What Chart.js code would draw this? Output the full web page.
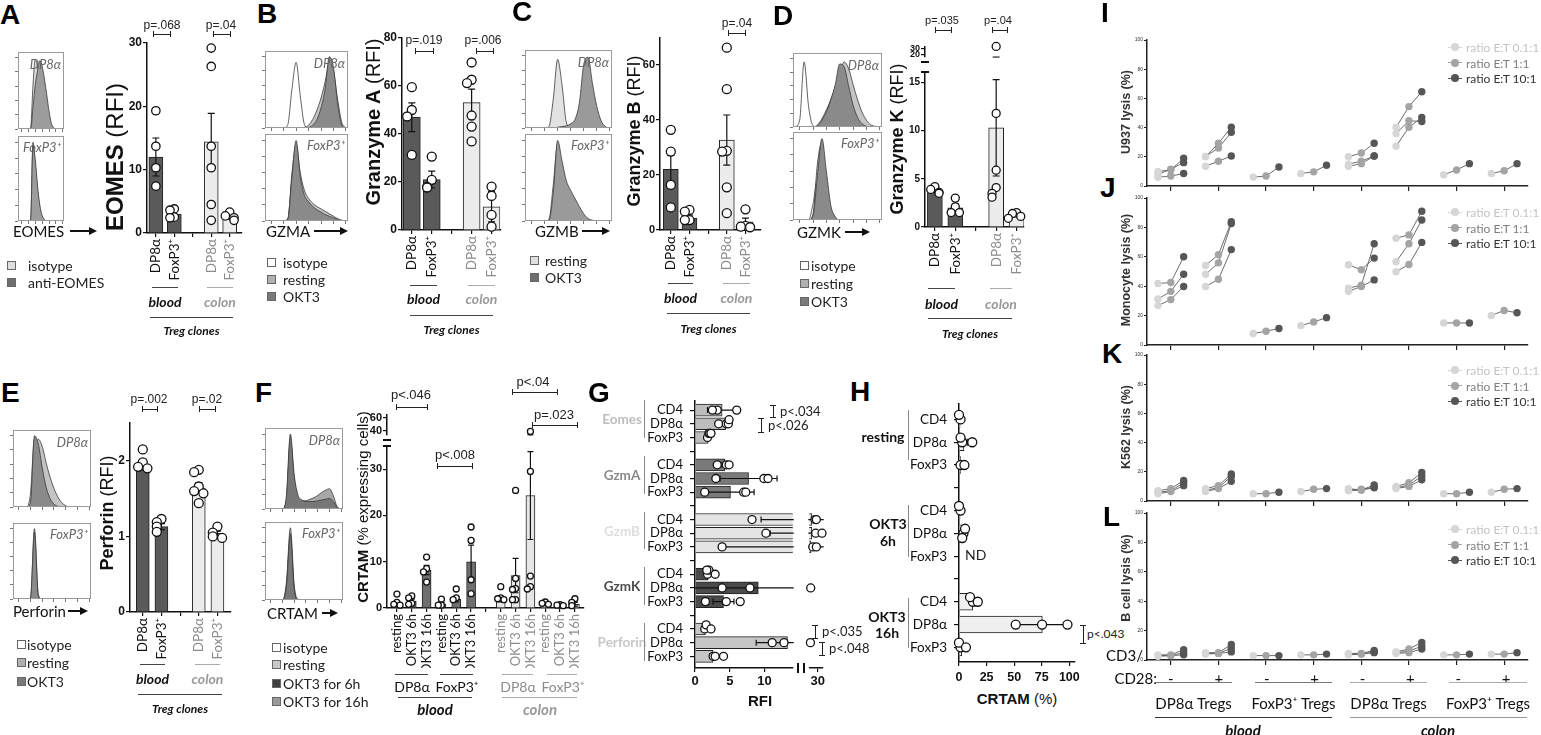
<!DOCTYPE html>
<html>
<head>
<meta charset="utf-8">
<title>Treg clones – cytotoxic molecules and lysis</title>
<script src="https://cdn.jsdelivr.net/npm/chart.js@4.4.1/dist/chart.umd.min.js"></script>
<style>
  html, body { margin: 0; padding: 0; background: #fff; }
  body { position: relative; width: 1541px; height: 735px; overflow: hidden; color: #111; }
  canvas { position: absolute; }
  .t { position: absolute; white-space: nowrap; line-height: 1; }
  .ln { position: absolute; }
</style>
</head>
<body>
<script>
// ---------- data ----------
const treg = ['DP8α', 'FoxP3⁺', '', 'DP8α', 'FoxP3⁺'];

// A - EOMES
const eomesMeans = [12.0, 3.0, null, 14.4, 2.5];
const eomesSems = [3.0, 0.4, null, 4.5, 0.3];
const eomesPoints = [[19.3, 13.7, 10.3, 7.4], [3.8, 3.6, 2.5, 2.4], [], [29.2, 26.3, 13.7, 10.3, 4.5, 2.0], [3.3, 2.7, 2.4, 2.0]];
const eomesTicks = [0, 10, 20, 30];

// B - Granzyme A
const gzmaMeans = [47, 21, null, 53.1, 9.7];
const gzmaSems = [6, 3.5, null, 5.6, 6.3];
const gzmaPoints = [[59.5, 50, 47.3, 31.3], [30.6, 20.9, 18, 17.7], [], [69.8, 62.6, 61.2, 47.7, 43.1, 36.9], [18.1, 14.2, 6.3, 1.4]];
const gzmaTicks = [0, 20, 40, 60, 80];

// C - Granzyme B
const gzmbMeans = [22.1, 4.2, null, 32.7, 3.0];
const gzmbSems = [5, 1.2, null, 9.1, 1.3];
const gzmbPoints = [[36.4, 28.5, 16.4, 8.2], [7.3, 6.7, 3.6, 3.6], [], [66.3, 51.2, 28.8, 28.5, 15.5, 6.1], [7.5, 1.5, 1.2, 1.0]];
const gzmbTicks = [0, 20, 40, 60];

// D - Granzyme K (broken axis)
const gzmkMeans = [3.8, 2.0, null, 10.3, 1.2];
const gzmkSems = [0.2, 0.4, null, 5, 0.15];
const gzmkPoints = [[4.2, 3.9, 3.6, 3.5], [3.0, 2.1, 1.5, 1.5], [], [34, 11.8, 5.9, 4.1, 3.5, 3.1], [1.5, 1.4, 1.1, 0.9]];
const gzmkTicksLow = [0, 5, 10, 15];
const gzmkTicksHigh = [20, 30];

// E - Perforin
const perfMeans = [1.95, 1.13, null, 1.64, 1.04];
const perfSems = [0.07, 0.04, null, 0.07, 0.03];
const perfPoints = [[2.15, 1.98, 1.92, 1.9], [1.23, 1.19, 1.13, 1.06], [], [1.88, 1.85, 1.66, 1.6, 1.57, 1.44], [1.13, 1.05, 1.0, 0.98]];
const perfTicks = [0, 1, 2];

// F - CRTAM
const crtamLabels = ['resting', 'OKT3 6h', 'OKT3 16h', 'resting', 'OKT3 6h', 'OKT3 16h', '', 'resting', 'OKT3 6h', 'OKT3 16h', 'resting', 'OKT3 6h', 'OKT3 16h'];
const crtamMeans = [1.1, 1.5, 8.2, 0.8, 1.9, 10, null, 1.9, 7, 24.3, 0.8, 0.5, 0.8];
const crtamSems = [0.5, 0.4, 1.0, 0.4, 0.6, 3.6, null, 0.6, 3.7, 9.5, 0.2, 0.1, 0.4];
const crtamPoints = [[3, 1.2, 0.8, 0.6], [2.6, 2.2, 1.0, 0.8], [11, 8.5, 7.8, 5.6], [1.9, 0.6, 0.6], [4.1, 2.2, 1.8], [17.5, 14.6, 6.1, 3.1], [],
  [4.6, 2.2, 2.0, 1.8], [25.4, 6.4, 4.2, 4.0, 1.8, 1.8], [39, 29.5, 6.9, 4.6, 4.1], [1.3, 1.0, 0.8], [0.7, 0.6, 0.5], [2.0, 1.2, 0.5]];
const crtamTicksLow = [0, 10, 20, 30];
const crtamTicksHigh = [40, 60];

// G - RFI per subset
const gLabels = ['CD4', 'DP8α', 'FoxP3', '', 'CD4', 'DP8α', 'FoxP3', '', 'CD4', 'DP8α', 'FoxP3', '', 'CD4', 'DP8α', 'FoxP3', '', 'CD4', 'DP8α', 'FoxP3'];
const gMarkers = ['Eomes', 'GzmA', 'GzmB', 'GzmK', 'Perforin'];
const gMeans = [3.9, 4.4, 1.9, null, 4.3, 7.7, 5.1, null, 25.8, 25.8, 25.2, null, 1.9, 9.1, 4.1, null, 1.5, 13.3, 2.6];
const gSems = [2.1, 0.3, 0.1, null, 0.4, 4.1, 3.4, null, 16.3, 15, 21, null, 0.3, 16, 1.5, null, 0.2, 4.5, 0.5];
const gPoints = [[3.2, 2.5, 6.0], [3.4, 4.5, 4.8, 4.9], [1.8, 2.0, 2.1, 2.3], [], [3.2, 4.5, 4.9], [3.0, 9.9, 10.5], [1.4, 7.0, 7.3], [],
  [8.2, 28, 29], [10.2, 28.5, 33], [3.9, 26.5, 29], [], [1.8, 2.0, 2.9, 1.7], [3.9, 7.9, 25], [1.5, 4.5, 6.5], [], [1.4, 1.6, 2.3], [11.1, 12.8, 24.8], [2.6, 2.9, 4.1]];
const rfiTicksLow = [0, 5, 10];
const rfiTicksHigh = [30];

// H - CRTAM %
const hLabels = ['CD4', 'DP8α', 'FoxP3', '', 'CD4', 'DP8α', 'FoxP3', '', 'CD4', 'DP8α', 'FoxP3'];
const hMeans = [1, 4.5, 1.5, null, 1, 4, null, null, 12.5, 75.5, 2.5];
const hSems = [0.5, 3, 1, null, 0.5, 0.8, null, null, 2, 24, 2];
const hPoints = [[1.4, 0], [2.9, 12, 1.4], [1.4, 4.9], [], [1.4, 0], [4, 5.5, 2.9], [], [], [12.6, 10, 17], [51.4, 75.3, 98.3], [1.4, 0, 6.3]];
const crtamPctTicks = [0, 25, 50, 75, 100];

// I-L - lysis (one value per donor line, at ratio 0.1:1, 1:1, 10:1)
const lysisGroups = ['blood DP8α −', 'blood DP8α +', 'blood FoxP3 −', 'blood FoxP3 +', 'colon DP8α −', 'colon DP8α +', 'colon FoxP3 −', 'colon FoxP3 +'];
const cd3Labels = ['-', '+', '-', '+', '-', '+', '-', '+'];
const donorGroup = [0, 0, 0, 1, 1, 1, 2, 3, 4, 4, 4, 5, 5, 5, 6, 7];
const ratioLabels = ['ratio E:T 0.1:1', 'ratio E:T 1:1', 'ratio E:T 10:1'];
const lysisTicks = [0, 20, 40, 60, 80, 100];
const u937Low = [10, 8, 6, 20, 20.3, 13.5, 6.1, 8.6, 20, 15, 13.5, 40.2, 36, 27.3, 7.7, 8.6];
const u937Mid = [11, 11.5, 6.8, 29.3, 26, 17, 6.8, 9.7, 22.6, 17, 15.3, 54.4, 44.7, 40.2, 11, 10.4];
const u937High = [19, 16, 8.6, 40.2, 36.8, 20.5, 13, 14.2, 29.3, 20.5, 20.5, 64.6, 44.2, 47, 15.3, 15.3];
const monoLow = [41.8, 31.3, 26.8, 54.1, 48.1, 39.8, 7.8, 13.2, 54.6, 38.7, 36.5, 72.7, 56.6, 49.9, 15, 20.1];
const monoMid = [42.5, 36.5, 30.9, 61.5, 55.9, 44.7, 9.4, 15.7, 51.2, 40.7, 39.8, 74.9, 68.9, 54.8, 15, 23.5];
const monoHigh = [60, 48.1, 39.8, 83.9, 82.6, 64.9, 11.2, 18.6, 59.1, 68.9, 44.3, 91, 85, 69.8, 15, 21.9];
const k562Low = [7, 6, 5, 8.5, 7.5, 6.5, 5, 6.5, 8.5, 7.5, 7, 10, 9, 8.5, 5, 6];
const k562Mid = [8.5, 7, 6.5, 10.5, 9, 8.5, 5, 8, 7.5, 8, 7.5, 12.5, 11, 10, 5, 8];
const k562High = [14, 12.5, 10.5, 18.5, 17, 13.5, 6, 8.5, 11, 9.5, 9, 19.5, 17, 14.5, 6, 8.5];
const bcellLow = [3.5, 3, 2.5, 5, 4.5, 4, 3, 3.5, 4.5, 4, 3.5, 5.5, 5, 4.5, 3.5, 4];
const bcellMid = [3.5, 3, 3, 5, 4.5, 4.5, 3, 3.5, 4.5, 4, 4, 7.5, 6, 5, 3.5, 4];
const bcellHigh = [7, 5, 3.5, 10.5, 8, 5.5, 3, 4, 6.5, 5.5, 5, 12, 9.5, 7.5, 4, 5];

// flow cytometry histograms (20 bins, % of max)
const eomesDpIso = [0, 0, 0, 0, 0, 2, 60, 98, 88, 72, 55, 38, 22, 10, 3, 0, 0, 0, 0, 0];
const eomesDpAb = [0, 0, 0, 0, 0, 0, 30, 62, 82, 96, 88, 70, 48, 25, 8, 2, 0, 0, 0, 0];
const eomesFxIso = [0, 0, 0, 0, 0, 2, 100, 72, 38, 16, 5, 1, 0, 0, 0, 0, 0, 0, 0, 0];
const eomesFxAb = [0, 0, 0, 0, 0, 1, 96, 78, 45, 20, 7, 2, 0, 0, 0, 0, 0, 0, 0, 0];
const gzmaDpIso = [0, 0, 0, 0, 0, 5, 55, 92, 45, 5, 0, 0, 0, 0, 0, 0, 0, 0, 0, 0];
const gzmaDpRest = [0, 0, 0, 0, 0, 0, 0, 0, 0, 1, 4, 12, 25, 42, 65, 92, 80, 40, 8, 0];
const gzmaDpOkt = [0, 0, 0, 0, 0, 0, 0, 0, 0, 0, 1, 4, 12, 28, 55, 100, 85, 35, 4, 0];
const gzmaFxIso = [0, 0, 0, 0, 0, 3, 50, 70, 30, 6, 1, 0, 0, 0, 0, 0, 0, 0, 0, 0];
const gzmaFxRest = [0, 0, 0, 0, 0, 2, 60, 95, 60, 38, 28, 22, 18, 15, 12, 9, 6, 3, 1, 0];
const gzmaFxOkt = [0, 0, 0, 0, 0, 2, 55, 100, 55, 32, 24, 18, 14, 11, 8, 6, 4, 2, 0, 0];
const gzmbDpRest = [0, 0, 0, 0, 0, 2, 40, 95, 60, 8, 0, 0, 0, 0, 0, 0, 0, 0, 0, 0];
const gzmbDpOkt = [0, 0, 0, 0, 0, 0, 0, 1, 2, 3, 6, 12, 35, 88, 98, 62, 30, 10, 2, 0];
const gzmbFxRest = [0, 0, 0, 0, 0, 2, 45, 95, 55, 15, 4, 1, 0, 0, 0, 0, 0, 0, 0, 0];
const gzmbFxOkt = [0, 0, 0, 0, 0, 1, 35, 100, 75, 50, 38, 28, 18, 9, 3, 1, 0, 0, 0, 0];
const gzmkDpIso = [0, 10, 95, 30, 2, 0, 0, 0, 0, 0, 0, 0, 0, 0, 0, 0, 0, 0, 0, 0];
const gzmkDpRest = [0, 0, 0, 0, 0, 3, 12, 25, 40, 58, 78, 95, 85, 62, 40, 22, 10, 3, 1, 0];
const gzmkDpOkt = [0, 0, 0, 0, 0, 2, 10, 22, 40, 62, 92, 88, 60, 32, 14, 5, 1, 0, 0, 0];
const gzmkFxIso = [0, 0, 0, 0, 20, 50, 15, 2, 0, 0, 0, 0, 0, 0, 0, 0, 0, 0, 0, 0];
const gzmkFxRest = [0, 0, 0, 0, 8, 70, 95, 45, 10, 2, 0, 0, 0, 0, 0, 0, 0, 0, 0, 0];
const gzmkFxOkt = [0, 0, 0, 0, 5, 55, 100, 60, 18, 4, 0, 0, 0, 0, 0, 0, 0, 0, 0, 0];
const perfDpIso = [0, 0, 0, 0, 20, 95, 30, 3, 0, 0, 0, 0, 0, 0, 0, 0, 0, 0, 0, 0];
const perfDpRest = [0, 0, 0, 0, 5, 75, 95, 85, 62, 42, 26, 14, 6, 2, 0, 0, 0, 0, 0, 0];
const perfDpOkt = [0, 0, 0, 0, 8, 100, 88, 55, 28, 12, 4, 1, 0, 0, 0, 0, 0, 0, 0, 0];
const perfFxIso = [0, 0, 0, 0, 0, 55, 2, 0, 0, 0, 0, 0, 0, 0, 0, 0, 0, 0, 0, 0];
const perfFxRest = [0, 0, 0, 0, 2, 100, 6, 0, 0, 0, 0, 0, 0, 0, 0, 0, 0, 0, 0, 0];
const perfFxOkt = [0, 0, 0, 0, 2, 95, 4, 0, 0, 0, 0, 0, 0, 0, 0, 0, 0, 0, 0, 0];
const crtamDpIso = [0, 0, 0, 0, 0, 10, 45, 5, 0, 0, 0, 0, 0, 0, 0, 0, 0, 0, 0, 0];
const crtamDpRest = [0, 0, 0, 0, 0, 15, 95, 40, 14, 9, 7, 6, 6, 6, 6, 5, 4, 2, 1, 0];
const crtamDpOkt16 = [0, 0, 0, 0, 0, 12, 90, 38, 14, 11, 11, 13, 15, 18, 22, 25, 27, 18, 3, 0];
const crtamDpOkt6 = [0, 0, 0, 0, 0, 18, 100, 45, 18, 12, 10, 10, 10, 11, 12, 13, 14, 10, 2, 0];
const crtamFxIso = [0, 0, 0, 0, 0, 5, 40, 3, 0, 0, 0, 0, 0, 0, 0, 0, 0, 0, 0, 0];
const crtamFxRest = [0, 0, 0, 0, 0, 25, 100, 20, 1, 0, 0, 0, 0, 0, 0, 0, 0, 0, 0, 0];
const crtamFxOkt16 = [0, 0, 0, 0, 0, 18, 85, 12, 0, 0, 0, 0, 0, 0, 0, 0, 0, 0, 0, 0];
const crtamFxOkt6 = [0, 0, 0, 0, 0, 20, 92, 15, 0, 0, 0, 0, 0, 0, 0, 0, 0, 0, 0, 0];

// ---------- helpers ----------
const LIB = '"Liberation Sans", Arial, sans-serif';
const LATO = 'Lato, "Open Sans", sans-serif';

function txt(x, y, s, font, color, align, rot) {
  const d = document.createElement('div');
  d.className = 't';
  d.innerHTML = s;
  d.style.left = x + 'px';
  d.style.top = y + 'px';
  d.style.font = font;
  d.style.color = color || '#111';
  d.style.transform = rot ? 'translate(-50%,-50%) rotate(-90deg)'
    : `translate(${align === 'c' ? '-50%' : align === 'r' ? '-100%' : '0'},-50%)`;
  document.body.appendChild(d);
}

function ln(x1, y1, x2, y2, color, w) {
  w = w || 1;
  const d = document.createElement('div');
  d.className = 'ln';
  d.style.background = color || '#111';
  if (y1 === y2) {
    d.style.left = Math.min(x1, x2) + 'px'; d.style.top = (y1 - w / 2) + 'px';
    d.style.width = Math.abs(x2 - x1) + 'px'; d.style.height = w + 'px';
  } else {
    d.style.left = (x1 - w / 2) + 'px'; d.style.top = Math.min(y1, y2) + 'px';
    d.style.width = w + 'px'; d.style.height = Math.abs(y2 - y1) + 'px';
  }
  document.body.appendChild(d);
}

function hBracket(x1, x2, y) { ln(x1, y, x2, y, '#222'); ln(x1, y - 3, x1, y + 3, '#222'); ln(x2, y - 3, x2, y + 3, '#222'); }
function vBracket(x, y1, y2) { ln(x, y1, x, y2, '#222'); ln(x - 3, y1, x + 3, y1, '#222'); ln(x - 3, y2, x + 3, y2, '#222'); }

function arrow(x1, x2, y) {
  ln(x1, y, x2 - 7, y, '#111', 1.5);
  const d = document.createElement('div');
  d.className = 'ln';
  d.style.cssText += `left:${x2 - 8}px;top:${y - 4.5}px;width:0;height:0;border-left:8px solid #111;border-top:4.5px solid transparent;border-bottom:4.5px solid transparent;`;
  document.body.appendChild(d);
}

function legendSquare(x, y, fill, label, textX) {
  const d = document.createElement('div');
  d.className = 'ln';
  d.style.cssText += `left:${x}px;top:${y - 4}px;width:7px;height:7px;background:${fill};border:1px solid #666;`;
  document.body.appendChild(d);
  txt(textX, y, label, `14px ${LATO}`, '#222');
}

function addCanvas(P, m) {
  const cv = document.createElement('canvas');
  const W = Math.round(P.r - P.l + m.l + m.r), H = Math.round(P.b - P.t + m.t + m.b);
  cv.width = W; cv.height = H;
  cv.style.left = (P.l - m.l) + 'px'; cv.style.top = (P.t - m.t) + 'px';
  cv.style.width = W + 'px'; cv.style.height = H + 'px';
  document.body.appendChild(cv);
  return cv;
}

// force every axis box to a fixed size so the plot area lands where we want it
const fitTo = size => s => {
  if (s.isHorizontal()) s.height = size; else s.width = size;
  s.paddingLeft = s.paddingRight = s.paddingTop = s.paddingBottom = 0;
};

function errorBarPlugin(means, sems, cap) {
  return {
    id: 'errorBars',
    afterDatasetDraw(chart, args) {
      if (args.index !== 0) return;
      const horiz = chart.options.indexAxis === 'y';
      const iS = chart.scales[horiz ? 'y' : 'x'], vS = chart.scales[horiz ? 'x' : 'y'];
      const ctx = chart.ctx, a = chart.chartArea;
      ctx.save();
      ctx.beginPath();
      ctx.rect(a.left - 1, a.top - 1, a.right - a.left + 2, a.bottom - a.top + 2);
      ctx.clip();
      ctx.strokeStyle = '#111';
      ctx.lineWidth = 1.2;
      means.forEach((mv, i) => {
        const s = sems[i];
        if (mv == null || !s) return;
        const c = iS.getPixelForValue(i), lo = vS.getPixelForValue(mv - s), hi = vS.getPixelForValue(mv + s), h = cap / 2;
        ctx.beginPath();
        if (horiz) {
          ctx.moveTo(lo, c); ctx.lineTo(hi, c);
          ctx.moveTo(lo, c - h); ctx.lineTo(lo, c + h);
          ctx.moveTo(hi, c - h); ctx.lineTo(hi, c + h);
        } else {
          ctx.moveTo(c, lo); ctx.lineTo(c, hi);
          ctx.moveTo(c - h, lo); ctx.lineTo(c + h, lo);
          ctx.moveTo(c - h, hi); ctx.lineTo(c + h, hi);
        }
        ctx.stroke();
      });
      ctx.restore();
    }
  };
}

const frame = {
  id: 'frame',
  afterDraw(chart) {
    const a = chart.chartArea, ctx = chart.ctx;
    ctx.save();
    ctx.strokeStyle = '#9a9a9a';
    ctx.lineWidth = 1;
    ctx.strokeRect(a.left + 0.5, a.top + 0.5, a.right - a.left - 1, a.bottom - a.top - 1);
    ctx.restore();
  }
};

const noUi = { legend: { display: false }, tooltip: { enabled: false } };

// bar (mean) + scatter (single clones) + SEM, vertical or horizontal
function dotBars(o) {
  const horiz = !!o.horiz, P = o.plot, m = o.m;
  const cv = addCanvas(P, m);
  const iStart = horiz ? P.t : P.l, iEnd = horiz ? P.b : P.r;
  const pxPerVal = (horiz ? P.r - P.l : P.b - P.t) / (o.vMax - o.vMin);
  const top = o.vMax + (o.over || 0);
  const jit = o.jit == null ? 1.6 : o.jit;
  const pts = [];
  o.points.forEach((arr, i) => {
    const placed = [];
    arr.forEach(v => {
      if (v < o.vMin || v > top) return;
      const near = placed.filter(p => Math.abs(p - v) * pxPerVal < o.r * jit).length;
      placed.push(v);
      const off = near ? (near % 2 ? -1 : 1) * Math.ceil(near / 2) * o.r * 1.05 / o.dc : 0;
      pts.push(horiz ? { x: v, y: i + off } : { x: i + off, y: v });
    });
  });
  const bars = [], cols = [];
  o.means.forEach((v, i) => {
    if (v == null) return;
    bars.push(horiz ? { x: v, y: i } : { x: i, y: v });
    cols.push(o.colors[i]);
  });
  const showIdx = o.showIndex !== false, showVal = o.showValue !== false;
  const idxAxis = {
    type: 'linear', display: showIdx, offset: false, reverse: horiz,
    min: (iStart - o.c0) / o.dc, max: (iEnd - o.c0) / o.dc,
    afterBuildTicks: s => { s.ticks = o.labels.map((_, i) => ({ value: i })); },
    afterFit: fitTo(horiz ? m.l : m.b),
    ticks: {
      autoSkip: false, minRotation: horiz ? 0 : 90, maxRotation: horiz ? 0 : 90,
      padding: o.labelPad || 2, font: o.labelFont,
      color: c => (o.labelColors ? o.labelColors[c.index] : '#111'),
      callback: v => o.labels[Math.round(v)]
    },
    grid: { offset: false, drawOnChartArea: false, tickLength: o.tickLen || 4, color: '#111', lineWidth: 1.2 },
    border: { color: '#111', width: 1.5 }
  };
  const valAxis = {
    type: 'linear', display: showVal, min: o.vMin, max: o.vMax, beginAtZero: false,
    afterBuildTicks: s => { s.ticks = o.ticks.map(v => ({ value: v })); },
    afterFit: fitTo(horiz ? m.b : m.l),
    ticks: { autoSkip: false, padding: o.valPad || 1, font: o.valFont, color: '#111' },
    grid: { drawOnChartArea: false, tickLength: 4, color: '#111', lineWidth: 1.2 },
    border: { color: '#111', width: 1.5 }
  };
  const leftShown = horiz ? showIdx : showVal, bottomShown = horiz ? showVal : showIdx;
  new Chart(cv, {
    type: 'bar',
    data: {
      datasets: [
        { type: 'bar', data: bars, backgroundColor: cols, borderColor: '#222', borderWidth: 1, barThickness: o.bw, clip: 0, order: 3 },
        { type: 'scatter', data: pts, pointRadius: o.r, pointBackgroundColor: '#fff', pointBorderColor: '#111', pointBorderWidth: 1.3, clip: false, order: 1 }
      ]
    },
    options: {
      responsive: false, animation: false, devicePixelRatio: 1, events: [],
      indexAxis: horiz ? 'y' : 'x',
      layout: { padding: { top: m.t, right: m.r, left: leftShown ? 0 : m.l, bottom: bottomShown ? 0 : m.b } },
      scales: horiz ? { y: idxAxis, x: valAxis } : { x: idxAxis, y: valAxis },
      plugins: noUi
    },
    plugins: [errorBarPlugin(o.means, o.sems, o.cap)]
  });
}

function histo(box, series, fills) {
  const m = { l: 4, r: 0, t: 0, b: 4 };
  const cv = addCanvas(box, m);
  new Chart(cv, {
    type: 'line',
    data: {
      datasets: series.map((s, k) => ({
        data: s.map((v, i) => ({ x: i, y: v })),
        fill: 'origin', backgroundColor: fills[k], borderColor: '#3a3a3a', borderWidth: 0.8,
        pointRadius: 0, cubicInterpolationMode: 'monotone', order: series.length - k
      }))
    },
    options: {
      responsive: false, animation: false, devicePixelRatio: 1, events: [],
      layout: { padding: 0 },
      scales: {
        x: { type: 'linear', min: -0.5, max: 19.5, afterFit: fitTo(m.b),
          afterBuildTicks: s => { s.ticks = [1, 4, 7, 10, 13, 16, 19].map(v => ({ value: v })); },
          ticks: { display: false }, border: { display: false },
          grid: { drawOnChartArea: false, tickLength: 3, color: '#777' } },
        y: { type: 'linear', min: 0, max: 108, afterFit: fitTo(m.l),
          afterBuildTicks: s => { s.ticks = [0, 20, 40, 60, 80, 100].map(v => ({ value: v })); },
          ticks: { display: false }, border: { display: false },
          grid: { drawOnChartArea: false, tickLength: 3, color: '#777' } }
      },
      plugins: noUi
    },
    plugins: [frame]
  });
}

const ratioColors = ['#d6d6d6', '#a4a4a4', '#565656'];
const ratioText = ['#c4c4c4', '#808080', '#333'];

function lysis(P, lo, mid, hi) {
  const m = { l: 16, r: 2, t: 2, b: 6 };
  const cv = addCanvas(P, m);
  new Chart(cv, {
    type: 'line',
    data: {
      datasets: donorGroup.map((g, d) => ({
        data: [{ x: g - 0.27, y: lo[d] }, { x: g, y: mid[d] }, { x: g + 0.27, y: hi[d] }],
        borderColor: '#5c5c5c', borderWidth: 0.9, tension: 0, clip: false,
        pointRadius: 3.7, pointBorderWidth: 0, pointBackgroundColor: ratioColors
      }))
    },
    options: {
      responsive: false, animation: false, devicePixelRatio: 1, events: [],
      layout: { padding: { top: m.t, right: m.r, left: 0, bottom: 0 } },
      scales: {
        x: { type: 'linear', min: -0.5, max: lysisGroups.length - 0.5, afterFit: fitTo(m.b),
          afterBuildTicks: s => { s.ticks = lysisGroups.map((_, i) => ({ value: i })); },
          ticks: { display: false },
          grid: { drawOnChartArea: false, tickLength: 5, color: '#222', lineWidth: 1.2 },
          border: { color: '#222', width: 1.5 } },
        y: { type: 'linear', min: 0, max: 100, afterFit: fitTo(m.l),
          afterBuildTicks: s => { s.ticks = lysisTicks.map(v => ({ value: v })); },
          ticks: { font: { size: 5, family: LIB }, color: '#333', padding: 1 },
          grid: { drawOnChartArea: false, tickLength: 3, color: '#222' },
          border: { color: '#222', width: 1.5 } }
      },
      plugins: noUi
    }
  });
}

function lysisLegend(y0) {
  ratioLabels.forEach((lab, k) => {
    const y = y0 + k * 15.5;
    ln(1448, y, 1462, y, ratioColors[k], 1);
    const d = document.createElement('div');
    d.className = 'ln';
    d.style.cssText += `left:${1451}px;top:${y - 4}px;width:8px;height:8px;border-radius:50%;background:${ratioColors[k]};`;
    document.body.appendChild(d);
    txt(1466, y, lab, `12px ${LATO}`, ratioText[k]);
  });
}

function tregFooter(bl, cl, ly, ty, lng, tregY) {
  ln(bl[0], ly, bl[1], ly, '#444', 1);
  ln(cl[0], ly, cl[1], ly, '#aaa', 1);
  txt((bl[0] + bl[1]) / 2, ty, 'blood', `italic bold 14px ${LATO}`, '#111', 'c');
  txt((cl[0] + cl[1]) / 2, ty, 'colon', `italic bold 14px ${LATO}`, '#999', 'c');
  ln(lng[0], lng[2], lng[1], lng[2], '#444', 1);
  txt((lng[0] + lng[1]) / 2, tregY, 'Treg clones', `italic bold 12px ${LATO}`, '#111', 'c');
}

function boxLabels(top, bottom) {
  txt(top.r - 3, top.t + 12, 'DP8<i>α</i>', `italic 13px ${LATO}`, '#666', 'r');
  txt(bottom.r - 3, bottom.t + 11, 'FoxP3⁺', `italic 13px ${LATO}`, '#666', 'r');
}

const letter = (x, y, s) => txt(x, y, s, `bold 28px ${LIB}`, '#000');
const bloodCol = '#111', colonCol = '#8c8c8c';
const slotColors = (labels, a, b) => { const sep = labels.indexOf(''); return labels.map((_, i) => (i < sep ? a : b)); };

const vertCommon = {
  labels: treg, labelColors: slotColors(treg, bloodCol, colonCol),
  labelFont: { family: LATO, size: 13.5 }, valFont: { family: LIB, size: 12, weight: 'bold' },
  m: { l: 32, r: 4, t: 6, b: 60 }, cap: 7, colors: slotColors(treg, '#5a5a5a', '#ececec')
};

// ---------- A ----------
letter(0, 15, 'A');
const aTop = { l: 18, r: 64, t: 52, b: 129 }, aBot = { l: 18, r: 64, t: 136, b: 221 };
histo(aTop, [eomesDpIso, eomesDpAb], ['#dcdcdc', '#9c9c9c']);
histo(aBot, [eomesFxIso, eomesFxAb], ['#dcdcdc', '#9c9c9c']);
boxLabels(aTop, aBot);
txt(13, 231, 'EOMES', `15px ${LATO}`); arrow(70, 97, 231);
legendSquare(7, 265, '#dedede', 'isotype', 28);
legendSquare(7, 282, '#6e6e6e', 'anti-EOMES', 28);
txt(115, 157, '<b>EOMES</b> (RFI)', `24px ${LIB}`, '#111', 'c', true);
dotBars({ ...vertCommon, plot: { l: 147, r: 243, t: 43, b: 233 }, c0: 156, dc: 18.75, means: eomesMeans, sems: eomesSems, points: eomesPoints,
  vMin: 0, vMax: 30, ticks: eomesTicks, bw: 14, r: 4.2 });
txt(162, 25, 'p=.068', `12px ${LIB}`, '#222', 'c'); hBracket(153, 170, 34);
txt(221, 25, 'p=.04', `12px ${LIB}`, '#222', 'c'); hBracket(213, 230, 34);
tregFooter([152, 178], [207, 233], 287, 301, [150, 233, 317], 330);

// ---------- B ----------
letter(257, 14, 'B');
const bTop = { l: 265, r: 348, t: 51, b: 128 }, bBot = { l: 265, r: 348, t: 134, b: 221 };
histo(bTop, [gzmaDpIso, gzmaDpRest, gzmaDpOkt], ['#ffffff', '#c4c4c4', '#8a8a8a']);
histo(bBot, [gzmaFxIso, gzmaFxRest, gzmaFxOkt], ['#ffffff', '#c4c4c4', '#8a8a8a']);
boxLabels(bTop, bBot);
txt(266, 231, 'GZMA', `15px ${LATO}`); arrow(314, 348, 231);
legendSquare(267, 262, '#ffffff', 'isotype', 283);
legendSquare(267, 279, '#b0b0b0', 'resting', 283);
legendSquare(267, 296, '#7a7a7a', 'OKT3', 283);
txt(373, 122, '<b>Granzyme A</b> (RFI)', `20px ${LIB}`, '#111', 'c', true);
dotBars({ ...vertCommon, plot: { l: 402, r: 502, t: 38, b: 230 }, c0: 412, dc: 20.3, means: gzmaMeans, sems: gzmaSems, points: gzmaPoints,
  vMin: 0, vMax: 80, ticks: gzmaTicks, bw: 17, r: 4.5 });
txt(424, 40, 'p=.019', `12px ${LIB}`, '#222', 'c'); hBracket(415, 433, 51);
txt(483, 40, 'p=.006', `12px ${LIB}`, '#222', 'c'); hBracket(476, 493, 51);
tregFooter([410, 437], [468, 495], 285, 298, [410, 493, 315], 329);

// ---------- C ----------
letter(512, 12, 'C');
const cTop = { l: 525, r: 612, t: 50, b: 128 }, cBot = { l: 525, r: 612, t: 134, b: 221 };
histo(cTop, [gzmbDpRest, gzmbDpOkt], ['#e2e2e2', '#9a9a9a']);
histo(cBot, [gzmbFxRest, gzmbFxOkt], ['#e2e2e2', '#9a9a9a']);
boxLabels(cTop, cBot);
txt(535, 231, 'GZMB', `15px ${LATO}`); arrow(582, 610, 231);
legendSquare(530, 260, '#e0e0e0', 'resting', 545);
legendSquare(530, 277, '#6e6e6e', 'OKT3', 545);
txt(634, 131, '<b>Granzyme B</b> (RFI)', `18px ${LIB}`, '#111', 'c', true);
dotBars({ ...vertCommon, plot: { l: 660, r: 762, t: 38, b: 230 }, c0: 671, dc: 19, means: gzmbMeans, sems: gzmbSems, points: gzmbPoints,
  vMin: 0, vMax: 69.8, ticks: gzmbTicks, bw: 15, r: 4.5, valFont: { family: LIB, size: 11, weight: 'bold' } });
txt(737, 23, 'p=.04', `12px ${LIB}`, '#222', 'c'); hBracket(728, 745, 33);
tregFooter([668, 693], [723, 750], 283, 297, [667, 750, 313], 328);

// ---------- D ----------
letter(773, 16, 'D');
const dTop = { l: 793, r: 882, t: 53, b: 127 }, dBot = { l: 793, r: 882, t: 132, b: 220 };
histo(dTop, [gzmkDpIso, gzmkDpRest, gzmkDpOkt], ['#ffffff', '#c4c4c4', '#8a8a8a']);
histo(dBot, [gzmkFxIso, gzmkFxRest, gzmkFxOkt], ['#ffffff', '#c4c4c4', '#8a8a8a']);
boxLabels(dTop, dBot);
txt(797, 232, 'GZMK', `15px ${LATO}`); arrow(845, 870, 232);
legendSquare(800, 265, '#ffffff', 'isotype', 811);
legendSquare(800, 283, '#b0b0b0', 'resting', 811);
legendSquare(800, 301, '#7a7a7a', 'OKT3', 811);
txt(897, 139, '<b>Granzyme K</b> (RFI)', `18px ${LIB}`, '#111', 'c', true);
const dCommon = { ...vertCommon, c0: 935, dc: 20.7, means: gzmkMeans, sems: gzmkSems, points: gzmkPoints, bw: 15, r: 4,
  valFont: { family: LIB, size: 10, weight: 'bold' } };
dotBars({ ...dCommon, plot: { l: 925, r: 1025, t: 72, b: 227 }, vMin: 0, vMax: 16.1, ticks: gzmkTicksLow });
dotBars({ ...dCommon, plot: { l: 925, r: 1025, t: 47, b: 62 }, m: { l: 32, r: 4, t: 6, b: 0 }, vMin: 16, vMax: 33, over: 4,
  ticks: gzmkTicksHigh, showIndex: false, valFont: { family: LIB, size: 9, weight: 'bold' } });
ln(921, 62, 929, 62, '#111', 1.5); ln(921, 72, 929, 72, '#111', 1.5);
txt(942, 20, 'p=.035', `11px ${LIB}`, '#222', 'c'); hBracket(935, 951, 30);
txt(998, 20, 'p=.04', `11px ${LIB}`, '#222', 'c'); hBracket(992, 1007, 30);
tregFooter([928, 955], [990, 1012], 288, 303, [928, 1012, 318], 333);

// ---------- E ----------
letter(1, 393, 'E');
const eTop = { l: 13, r: 91, t: 430, b: 507 }, eBot = { l: 13, r: 91, t: 523, b: 599 };
histo(eTop, [perfDpIso, perfDpRest, perfDpOkt], ['#ffffff', '#c4c4c4', '#8a8a8a']);
histo(eBot, [perfFxIso, perfFxRest, perfFxOkt], ['#ffffff', '#c4c4c4', '#8a8a8a']);
boxLabels(eTop, eBot);
txt(13, 611, 'Perforin', `15px ${LATO}`); arrow(68, 88, 611);
legendSquare(17, 644, '#ffffff', 'isotype', 27);
legendSquare(17, 662, '#b0b0b0', 'resting', 27);
legendSquare(17, 681, '#7a7a7a', 'OKT3', 27);
txt(107, 513, '<b>Perforin</b> (RFI)', `18px ${LIB}`, '#111', 'c', true);
dotBars({ ...vertCommon, plot: { l: 130, r: 232, t: 423, b: 612 }, c0: 143, dc: 19, means: perfMeans, sems: perfSems, points: perfPoints,
  vMin: 0, vMax: 2.5, ticks: perfTicks, bw: 13, r: 4.5 });
txt(149, 399, 'p=.002', `12px ${LIB}`, '#222', 'c'); hBracket(142, 157, 409);
txt(207, 399, 'p=.02', `12px ${LIB}`, '#222', 'c'); hBracket(199, 215, 409);
tregFooter([140, 165], [195, 220], 664, 678, [138, 222, 694], 708);

// ---------- F ----------
letter(255, 393, 'F');
const fTop = { l: 265, r: 343, t: 428, b: 509 }, fBot = { l: 265, r: 343, t: 522, b: 600 };
histo(fTop, [crtamDpIso, crtamDpRest, crtamDpOkt16, crtamDpOkt6], ['#ffffff', '#d0d0d0', '#a8a8a8', '#777777']);
histo(fBot, [crtamFxIso, crtamFxRest, crtamFxOkt16, crtamFxOkt6], ['#ffffff', '#d0d0d0', '#a8a8a8', '#777777']);
boxLabels(fTop, fBot);
txt(267, 613, 'CRTAM', `15px ${LATO}`); arrow(322, 338, 613);
legendSquare(272, 647, '#ffffff', 'isotype', 283);
legendSquare(272, 664, '#c8c8c8', 'resting', 283);
legendSquare(272, 683, '#404040', 'OKT3 for 6h', 283);
legendSquare(272, 701, '#9a9a9a', 'OKT3 for 16h', 283);
txt(362, 507, '<b>CRTAM</b> (% expressing cells)', `15px ${LIB}`, '#111', 'c', true);
const fCommon = { ...vertCommon, labels: crtamLabels, labelColors: slotColors(crtamLabels, bloodCol, colonCol),
  colors: slotColors(crtamLabels, '#6f6f6f', '#e6e6e6'), labelFont: { family: LATO, size: 13 },
  c0: 397, dc: 14.93, means: crtamMeans, sems: crtamSems, points: crtamPoints, bw: 9, r: 3, cap: 6,
  valFont: { family: LIB, size: 11, weight: 'bold' } };
dotBars({ ...fCommon, plot: { l: 387, r: 585, t: 446, b: 608 }, vMin: 0, vMax: 35, ticks: crtamTicksLow });
dotBars({ ...fCommon, plot: { l: 387, r: 585, t: 415, b: 440 }, m: { l: 32, r: 4, t: 6, b: 0 }, vMin: 34, vMax: 64,
  ticks: crtamTicksHigh, showIndex: false });
ln(383, 440, 391, 440, '#111', 1.5); ln(383, 446, 391, 446, '#111', 1.5);
txt(411, 394, 'p&lt;.046', `13px ${LIB}`, '#222', 'c'); hBracket(396, 427, 407);
txt(455, 454, 'p&lt;.008', `13px ${LIB}`, '#222', 'c'); hBracket(437, 472, 466);
txt(533, 381, 'p&lt;.04', `13px ${LIB}`, '#222', 'c'); hBracket(512, 557, 392);
txt(554, 414, 'p=.023', `13px ${LIB}`, '#222', 'c'); hBracket(532, 577, 425);
ln(395, 674, 428, 674, '#444'); txt(412, 686, 'DP8α', `14px ${LATO}`, bloodCol, 'c');
ln(440, 674, 473, 674, '#444'); txt(457, 686, 'FoxP3⁺', `14px ${LATO}`, bloodCol, 'c');
ln(502, 674, 533, 674, '#aaa'); txt(518, 686, 'DP8α', `14px ${LATO}`, colonCol, 'c');
ln(547, 674, 577, 674, '#aaa'); txt(563, 686, 'FoxP3⁺', `14px ${LATO}`, colonCol, 'c');
ln(398, 697, 472, 697, '#444'); txt(435, 709, 'blood', `italic bold 15px ${LATO}`, '#111', 'c');
ln(502, 697, 577, 697, '#aaa'); txt(540, 709, 'colon', `italic bold 15px ${LATO}`, '#999', 'c');

// ---------- G ----------
letter(588, 393, 'G');
const gCommon = { horiz: true, c0: 405, dc: 13.95, labels: gLabels, means: gMeans, sems: gSems, points: gPoints,
  colors: gLabels.map((_, i) => ['#bdbdbd', '#7a7a7a', '#e4e4e4', '#4a4a4a', '#c6c6c6'][Math.floor(i / 4)]),
  labelFont: { family: LATO, size: 13 }, labelPad: 7, tickLen: 5, valFont: { family: LIB, size: 13, weight: 'bold' },
  valPad: 2, r: 4, bw: 12, cap: 6, jit: 0.5 };
dotBars({ ...gCommon, plot: { l: 695, r: 798, t: 395, b: 668 }, m: { l: 60, r: 0, t: 0, b: 24 }, vMin: 0, vMax: 14.05, ticks: rfiTicksLow });
dotBars({ ...gCommon, plot: { l: 804, r: 826, t: 395, b: 668 }, m: { l: 0, r: 2, t: 0, b: 24 }, vMin: 24, vMax: 33.5, over: 1,
  ticks: rfiTicksHigh, showIndex: false });
ln(798, 663, 798, 673, '#111', 1.5); ln(804, 663, 804, 673, '#111', 1.5);
const gMarkerColors = ['#bdbdbd', '#8a8a8a', '#dedede', '#4a4a4a', '#c8c8c8'];
gMarkers.forEach((name, k) => {
  const yTop = 405 + 13.95 * 4 * k, yBot = yTop + 13.95 * 2;
  txt(622, (yTop + yBot) / 2, name, `bold 13.5px ${LATO}`, gMarkerColors[k], 'c');
  ln(644, yTop - 5, 644, yBot + 5, '#888');
});
vBracket(773, 405, 417); txt(780, 411, 'p&lt;.034', `13px ${LATO}`, '#222');
vBracket(761, 418, 432); txt(768, 425, 'p&lt;.026', `13px ${LATO}`, '#222');
vBracket(815, 625, 638); txt(822, 631, 'p&lt;.035', `13px ${LATO}`, '#222');
vBracket(822, 642, 655); txt(829, 648, 'p&lt;.048', `13px ${LATO}`, '#222');
txt(760, 700, 'RFI', `bold 15px ${LIB}`, '#111', 'c');

// ---------- H ----------
letter(850, 392, 'H');
dotBars({ horiz: true, plot: { l: 959, r: 1078, t: 398, b: 662 }, m: { l: 70, r: 2, t: 0, b: 26 }, c0: 414, dc: 23.3,
  labels: hLabels, means: hMeans, sems: hSems, points: hPoints, colors: hLabels.map(() => '#f0f0f0'),
  labelFont: { family: LATO, size: 13.5 }, labelPad: 7, tickLen: 5, valFont: { family: LIB, size: 12.5, weight: 'bold' }, valPad: 4,
  vMin: 0, vMax: 104.4, ticks: crtamPctTicks, r: 4.5, bw: 17, cap: 7, jit: 0.8 });
txt(883, 436, 'resting', `bold 14px ${LATO}`, '#111', 'c');
txt(888, 523, 'OKT3', `bold 14px ${LATO}`, '#111', 'c'); txt(888, 540, '6h', `bold 14px ${LATO}`, '#111', 'c');
txt(887, 616, 'OKT3', `bold 14px ${LATO}`, '#111', 'c'); txt(887, 632, '16h', `bold 14px ${LATO}`, '#111', 'c');
ln(908, 410, 908, 460, '#888'); ln(908, 505, 908, 557, '#888'); ln(908, 598, 908, 648, '#888');
txt(965, 554, 'ND', `14px ${LATO}`, '#222');
vBracket(1083, 625, 643); txt(1087, 633, 'p&lt;.043', `12px ${LATO}`, '#222');
txt(1017, 698, '<b>CRTAM</b> (%)', `15px ${LIB}`, '#111', 'c');

// ---------- I-L ----------
letter(1101, 13, 'I'); letter(1100, 188, 'J'); letter(1102, 354, 'K'); letter(1103, 517, 'L');
lysis({ l: 1147, r: 1530, t: 38, b: 186 }, u937Low, u937Mid, u937High);
lysis({ l: 1147, r: 1530, t: 196, b: 345 }, monoLow, monoMid, monoHigh);
lysis({ l: 1147, r: 1530, t: 353, b: 501 }, k562Low, k562Mid, k562High);
lysis({ l: 1147, r: 1530, t: 511, b: 660 }, bcellLow, bcellMid, bcellHigh);
txt(1126, 112, 'U937 lysis (%)', `bold 12.5px ${LIB}`, '#333', 'c', true);
txt(1126, 270, 'Monocyte lysis (%)', `bold 12.5px ${LIB}`, '#333', 'c', true);
txt(1126, 427, 'K562 lysis (%)', `bold 12.5px ${LIB}`, '#333', 'c', true);
txt(1126, 578, 'B cell lysis (%)', `bold 12.5px ${LIB}`, '#333', 'c', true);
lysisLegend(47); lysisLegend(212); lysisLegend(370); lysisLegend(529);
txt(1143, 655, 'CD3/', `15px ${LATO}`, '#111', 'r');
txt(1157, 678, 'CD28:', `15px ${LATO}`, '#111', 'r');
cd3Labels.forEach((s, i) => txt(1170.9 + 47.9 * i, 678, s, `15px ${LATO}`, '#111', 'c'));
[['DP8α Tregs', 1155, 1232, '#777'], ['FoxP3⁺ Tregs', 1255, 1332, '#777'], ['DP8α Tregs', 1350, 1427, '#aaa'], ['FoxP3⁺ Tregs', 1449, 1527, '#aaa']]
  .forEach(([lab, a, b, c]) => { ln(a, 682, b, 682, c); txt((a + b) / 2, 703, lab, `15px ${LATO}`, '#111', 'c'); });
ln(1155, 717, 1332, 717, '#333'); txt(1243, 730, 'blood', `italic bold 15px ${LATO}`, '#111', 'c');
ln(1350, 717, 1527, 717, '#999'); txt(1438, 730, 'colon', `italic bold 15px ${LATO}`, '#111', 'c');
</script>
</body>
</html>
